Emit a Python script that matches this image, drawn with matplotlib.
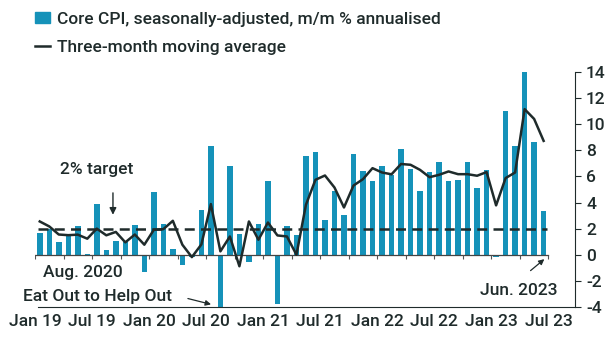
import matplotlib
matplotlib.use("Agg")
import matplotlib.pyplot as plt
from matplotlib.patches import Patch
from matplotlib.lines import Line2D

plt.rcParams['font.family'] = ['Roboto', 'DejaVu Sans']
plt.rcParams['font.weight'] = 500

# monthly data, Jan 2019 .. Jun 2023
core_cpi = [1.66, 1.96, 0.94, 1.4, 2.17, 0.08, 3.88, 0.38, 1.07, 1.0, 2.3, -1.35,
            4.8, 2.37, 0.46, -0.77, -0.2, 3.44, 8.34, -11.0, 6.81, 1.6, -0.59, 2.37,
            5.61, -3.78, 2.17, 1.48, 7.58, 7.83, 2.68, 4.9, 3.06, 7.73, 6.43, 5.66,
            6.81, 6.07, 8.09, 6.56, 4.85, 6.3, 7.14, 5.61, 5.74, 7.14, 5.15, 6.5,
            -0.2, 10.97, 8.29, 14.0, 8.65, 3.37]
moving_avg = [2.55, 2.17, 1.55, 1.5, 1.54, 1.23, 2.0, 1.49, 1.75, 0.95, 1.55, 0.77,
              1.91, 1.96, 2.6, 0.77, -0.18, 0.79, 3.88, 0.26, 1.4, -0.88, 2.55, 1.15,
              2.47, 1.48, 1.4, 0.0, 3.83, 5.74, 6.07, 5.15, 3.62, 5.3, 5.79, 6.63,
              6.3, 6.16, 6.95, 6.89, 6.5, 5.94, 6.12, 6.38, 6.17, 6.17, 6.05, 6.33,
              3.78, 5.87, 6.3, 11.15, 10.4, 8.72]
tick_labels = ['Jan 19', 'Jul 19', 'Jan 20', 'Jul 20', 'Jan 21',
               'Jul 21', 'Jan 22', 'Jul 22', 'Jan 23', 'Jul 23']
target = 2

bar_color = '#1592b9'
dark = '#1f2b2b'
fs = 12.5

fig = plt.figure(figsize=(6.14, 3.4), dpi=100)
ax = fig.add_axes([35/614, 1 - 307/340, 540/614, 239/340])

months = range(len(core_cpi))
centers = [m + 0.5 for m in months]

ax.bar(centers, core_cpi, width=0.58, color=bar_color, zorder=2)
ax.plot(centers, moving_avg, color=dark, lw=1.8, zorder=4)
ax.hlines(target, 0.3, 53.9, colors=dark, lw=1.8, linestyles=(0, (4, 2.5)), zorder=3)

# zero line with small ticks every three months
ax.plot([0, 54], [0, 0], color='#444444', lw=0.9, zorder=3)
ax.vlines(range(0, 55, 3), -0.3, 0, colors='#555555', lw=0.8, zorder=3)

ax.set_xlim(0, 56.8)
ax.set_ylim(-4, 14.3)

ax.set_xticks(range(0, 55, 6))
ax.set_xticklabels(tick_labels, fontsize=fs, color=dark)
ax.tick_params(axis='x', length=0, pad=5)

ax.yaxis.tick_right()
ax.set_yticks(range(-4, 15, 2))
ax.set_yticklabels([str(v) for v in range(-4, 15, 2)], fontsize=fs, color=dark)
ax.tick_params(axis='y', length=4, width=0.8, color=dark, pad=4)

for s in ['top', 'left']:
    ax.spines[s].set_visible(False)
ax.spines['right'].set_bounds(-4, 14)
ax.spines['right'].set_color(dark)
ax.spines['bottom'].set_bounds(0.3, 56.8)
ax.spines['bottom'].set_color(dark)

# annotations
ax.text(6.5, 6.5, '2% target', fontsize=fs, color=dark, ha='center', va='center')
ax.annotate('', xy=(8.2, 2.85), xytext=(8.2, 4.95),
            arrowprops=dict(arrowstyle='-|>', color=dark, lw=1, mutation_scale=10))
ax.text(5.0, -1.35, 'Aug. 2020', fontsize=fs, color=dark, ha='center', va='center')
ax.text(6.6, -3.2, 'Eat Out to Help Out', fontsize=fs, color=dark, ha='center', va='center')
ax.annotate('', xy=(18.8, -3.85), xytext=(15.8, -3.3),
            arrowprops=dict(arrowstyle='-|>', color=dark, lw=0.9, mutation_scale=8))
ax.text(50.9, -2.75, 'Jun. 2023', fontsize=fs, color=dark, ha='center', va='center')
ax.annotate('', xy=(53.8, -0.2), xytext=(51.9, -1.35),
            arrowprops=dict(arrowstyle='-|>', color=dark, lw=0.9, mutation_scale=8))

handles = [Patch(color=bar_color), Line2D([], [], color=dark, lw=1.8)]
labels = ['Core CPI, seasonally-adjusted, m/m % annualised', 'Three-month moving average']
ax.legend(handles, labels, loc='upper left', bbox_to_anchor=(0.045, 0.985),
          bbox_transform=fig.transFigure, frameon=False, fontsize=fs,
          labelcolor=dark, handlelength=0.9, handleheight=0.6, handletextpad=0.4,
          labelspacing=0.75, borderaxespad=0)

fig.savefig('out.png', dpi=100)
